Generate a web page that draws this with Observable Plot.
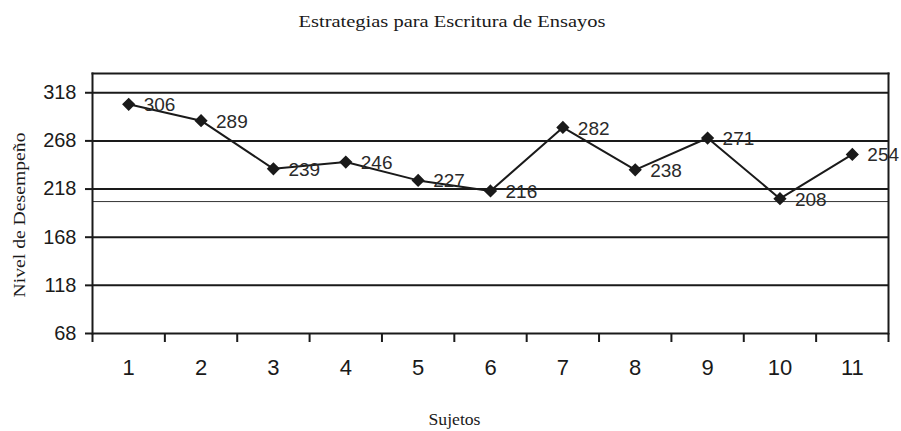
<!DOCTYPE html>
<html><head><meta charset="utf-8">
<script src="https://cdn.jsdelivr.net/npm/d3@7"></script>
<script src="https://cdn.jsdelivr.net/npm/@observablehq/plot@0.6"></script>
<style>body{margin:0;background:#fff}</style>
</head><body><div id="chart"></div>
<script>
const sujetos = [1,2,3,4,5,6,7,8,9,10,11];
const valores = [306,289,239,246,227,216,282,238,271,208,254];
const yTicks = [68,118,168,218,268,318];
const refLine = 205;
const title = "Estrategias para Escritura de Ensayos";
const yTitle = "Nivel de Desempeño";
const xTitle = "Sujetos";

const data = sujetos.map((s,i)=>({s, v: valores[i]}));
const bounds = d3.range(0.5, 12, 1);
const ink = "#1a1a1a";
const serif = "'Liberation Serif', 'Times New Roman', serif";

const chart = Plot.plot({
  width: 901, height: 431,
  marginLeft: 92, marginRight: 13, marginTop: 73, marginBottom: 98,
  style: {fontFamily: "'Liberation Sans', Arial, sans-serif", background: "#fff", color: ink},
  x: {domain: [0.5, 11.5], axis: null},
  y: {domain: [68, 338], axis: null},
  marks: [
    Plot.ruleY(yTicks, {stroke: ink, strokeWidth: 2}),
    Plot.ruleY([refLine], {stroke: "#333", strokeWidth: 1}),
    Plot.frame({anchor: "left", stroke: ink, strokeWidth: 2}),
    Plot.frame({anchor: "top", stroke: ink, strokeWidth: 2}),
    Plot.frame({anchor: "right", stroke: ink, strokeWidth: 2}),
    Plot.axisY({ticks: yTicks, tickSize: 7, tickPadding: 9, tickFormat: d=>d, fontSize: 20, label: null, strokeWidth: 2}),
    Plot.axisX({ticks: bounds, tickSize: 9, tickFormat: () => "", label: null, strokeWidth: 2}),
    Plot.axisX({ticks: sujetos, tickSize: 0, tickPadding: 26, tickFormat: d=>d, fontSize: 22, label: null}),
    Plot.line(data, {x: "s", y: "v", stroke: ink, strokeWidth: 2}),
    Plot.dot(data, {x: "s", y: "v", symbol: "diamond2", r: 5, fill: ink, stroke: ink}),
    Plot.text(data, {x: "s", y: "v", text: d=>String(d.v), textAnchor: "start", dx: 15, dy: 1, fontSize: 19, fill: "#2a2a2a"}),
    Plot.text([title], {frameAnchor: "top", textAnchor: "start", dx: -192, dy: -59, fontSize: 17, fontFamily: serif, fill: ink}),
    Plot.text([xTitle], {frameAnchor: "bottom", textAnchor: "start", dx: -62, dy: 91, fontSize: 16, fontFamily: serif, fill: ink}),
    Plot.text([yTitle], {frameAnchor: "left", textAnchor: "start", dx: -73, dy: 94, rotate: -90, fontSize: 16, fontFamily: serif, fill: ink})
  ]
});
const stretch = {[title]: 307, [yTitle]: 165, [xTitle]: 52};
chart.querySelectorAll("text").forEach(t => {
  const w = stretch[t.textContent];
  if (w) { t.setAttribute("textLength", w); t.setAttribute("lengthAdjust", "spacingAndGlyphs"); }
});
document.getElementById("chart").appendChild(chart);
</script>
</body></html>
